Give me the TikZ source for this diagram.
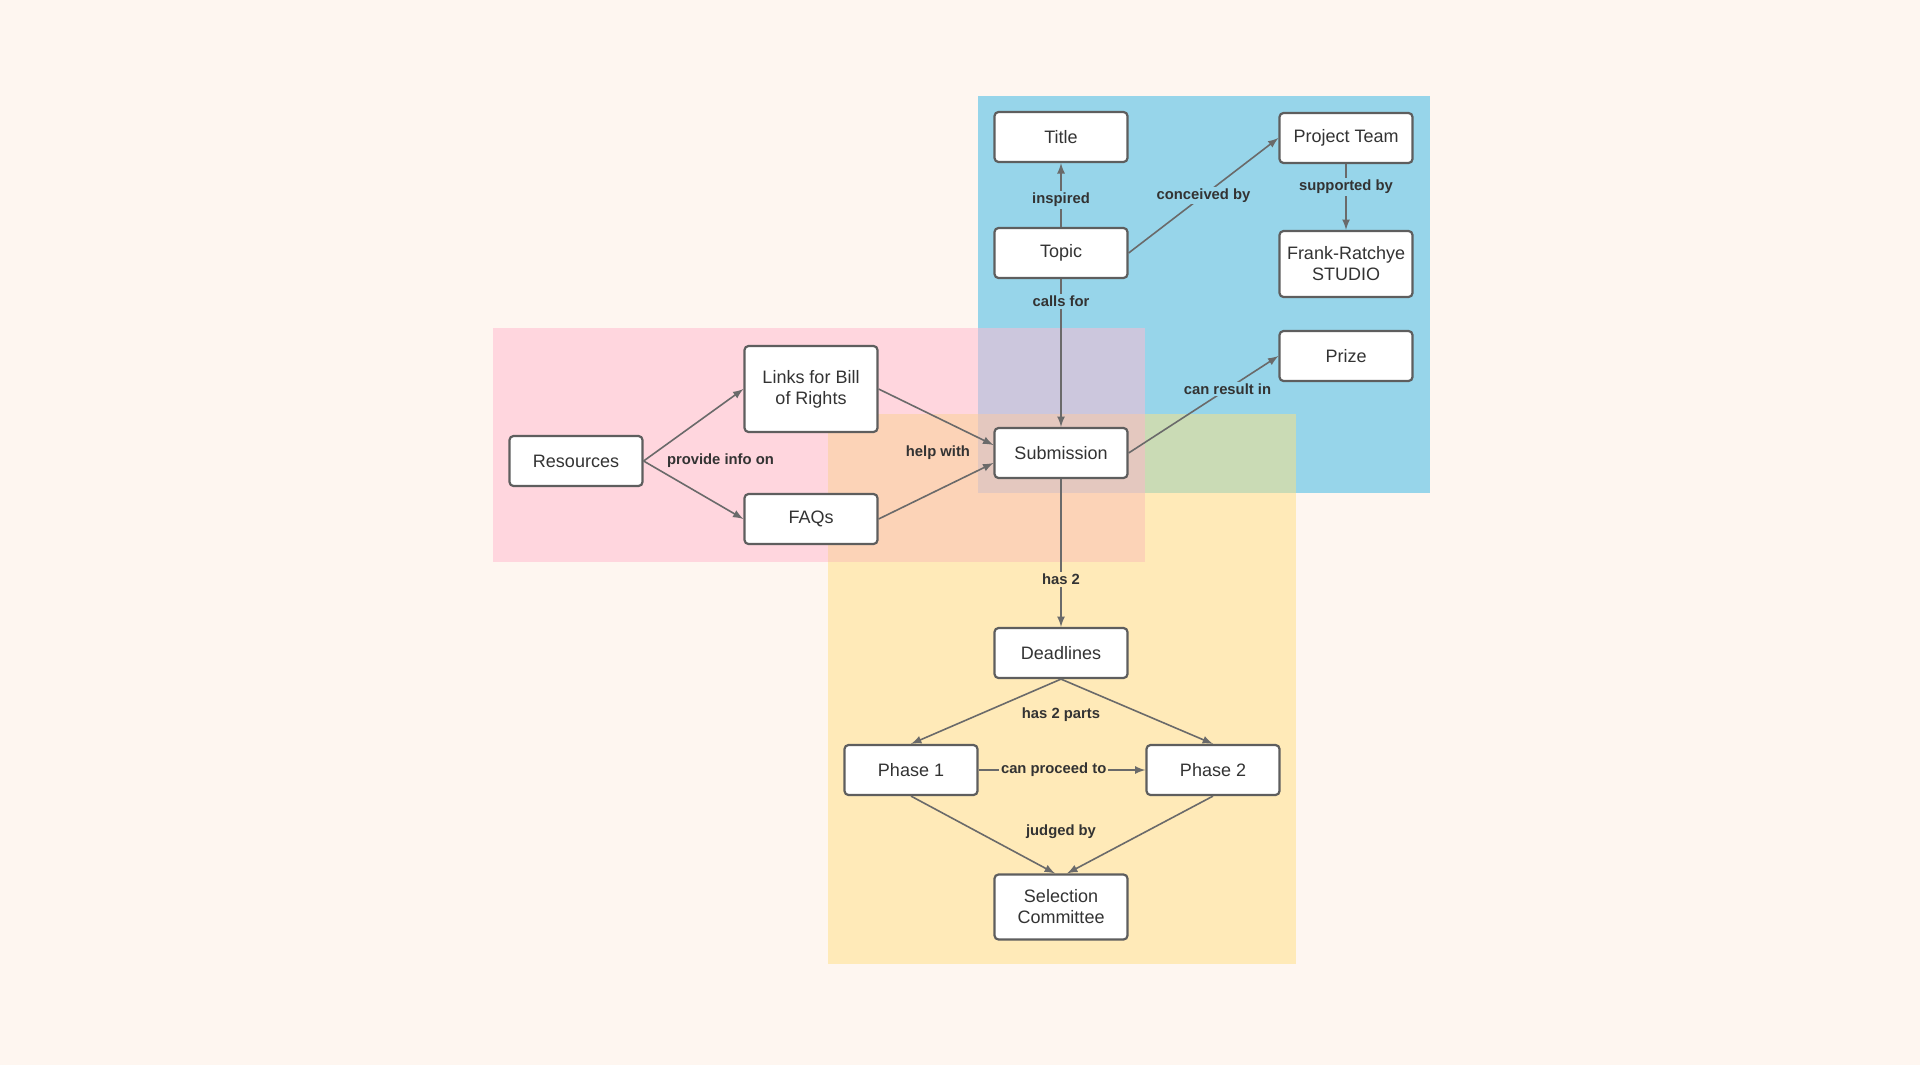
\documentclass[tikz,border=0pt]{standalone}
\usepackage{fontspec}
\setmainfont{Liberation Sans}
\usetikzlibrary{positioning}

\definecolor{bgc}{HTML}{FEF6F0}
\definecolor{bluec}{HTML}{97D5EA}
\definecolor{pinkc}{HTML}{FFD6DE}
\definecolor{yellowc}{HTML}{FFEAB8}
\definecolor{purplec}{HTML}{CCC7DD}
\definecolor{greenc}{HTML}{CADBB5}
\definecolor{peachc}{HTML}{FCD3B7}
\definecolor{triplec}{HTML}{E4C8BF}
\definecolor{boxc}{HTML}{5E5E5E}
\definecolor{linec}{HTML}{6A6A6A}
\definecolor{txtc}{HTML}{333333}

\begin{document}
\begin{tikzpicture}[
  x=0.5pt, y=-0.5pt,
  >=latex,
  arr/.style={-latex, draw=linec, line width=0.8pt},
  box/.style={draw=boxc, line width=1.1pt, rounded corners=2pt, fill=white, minimum width=66.5pt, minimum height=25pt, inner sep=2pt, font=\fontsize{9}{10.5}\selectfont, text=txtc, align=center},
  lbl/.style={font=\fontsize{7.4}{9}\selectfont\bfseries, text=txtc, inner sep=1pt},
]

% page and coloured areas
\fill[bgc] (0,0) rectangle (1920,1065);
\useasboundingbox (0,0) rectangle (1920,1065);

\fill[bluec]   (978,96)   rectangle (1430,493);
\fill[yellowc] (828,414)  rectangle (1296,964);
\fill[pinkc]   (493,328)  rectangle (1145,562);
\fill[purplec] (978,328)  rectangle (1145,414);
\fill[greenc]  (1145,414) rectangle (1296,493);
\fill[peachc]  (828,414)  rectangle (1145,562);
\fill[triplec] (978,414)  rectangle (1145,493);

% nodes
\node[box] (title)  at (1061,137) {Title};
\node[box] (topic)  at (1061,253) {Topic};
\node[box] (team)   at (1346,138) {Project Team};
\node[box, minimum height=33pt] (studio) at (1346,264) {Frank-Ratchye\\STUDIO};
\node[box] (prize)  at (1346,356) {Prize};
\node[box] (sub)    at (1061,453) {Submission};

\node[box] (res)    at (576,461)  {Resources};
\node[box, minimum height=43pt] (links) at (811,389) {Links for Bill\\of Rights};
\node[box] (faqs)   at (811,519)  {FAQs};

\node[box] (dead)   at (1061,653) {Deadlines};
\node[box] (ph1)    at (911,770)  {Phase 1};
\node[box] (ph2)    at (1213,770) {Phase 2};
\node[box, minimum height=32.5pt] (sel) at (1061,907) {Selection\\Committee};

% connectors
\draw[arr] (topic) -- node[lbl, fill=bluec, pos=.42] {inspired} (title);
\draw[arr] (topic.east) -- node[lbl, fill=bluec] {conceived by} (team.west);
\draw[arr] (team) -- node[lbl, fill=bluec, pos=.35] {supported by} (studio);
\draw[arr] (topic) -- node[lbl, fill=bluec, pos=.15] {calls for} (sub);
\draw[arr] (sub.east) -- node[lbl, fill=bluec, pos=.66] {can result in} (prize.west);

\draw[arr] (res.east) -- (links.west);
\draw[arr] (res.east) -- (faqs.west);
\node[lbl, right=10.5pt of res] (provide) {provide info on};

\draw[arr] (links.east) -- ([yshift=4pt]sub.west);
\draw[arr] (faqs.east) -- ([yshift=-5pt]sub.west);
\node[lbl, left=10.5pt of sub] (help) {help with};

\draw[arr] (sub) -- node[lbl, fill=yellowc, pos=.68] {has 2} (dead);
\draw[arr] (dead.south) -- (ph1.north);
\draw[arr] (dead.south) -- (ph2.north);
\node[lbl, below=13pt of dead] (parts) {has 2 parts};

\draw[arr] (ph1) -- node[lbl, fill=yellowc, pos=.45] {can proceed to} (ph2);
\draw[arr] (ph1.south) -- ([xshift=-3pt]sel.north);
\draw[arr] (ph2.south) -- ([xshift=3pt]sel.north);
\node[lbl, above=16pt of sel] (judged) {judged by};

\end{tikzpicture}
\end{document}
